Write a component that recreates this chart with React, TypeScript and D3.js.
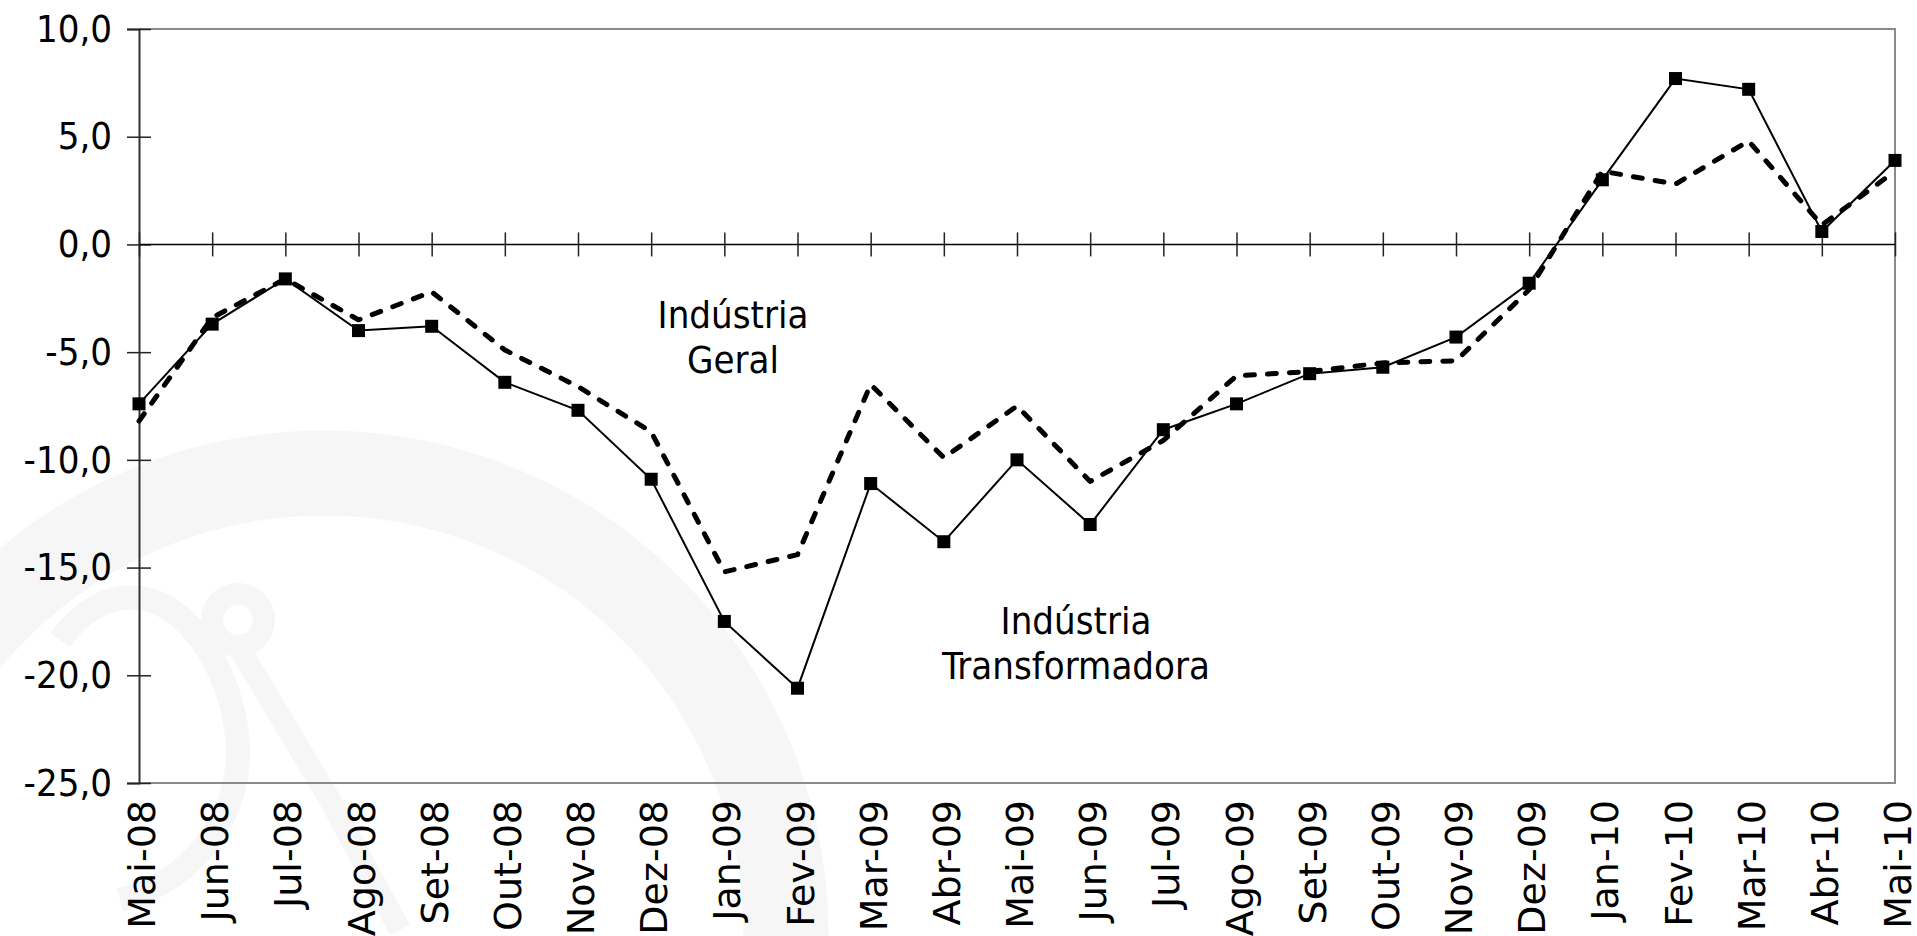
import React, { useEffect, useRef } from 'react';
import * as d3 from 'd3';

const months = [
  'Mai-08', 'Jun-08', 'Jul-08', 'Ago-08', 'Set-08', 'Out-08', 'Nov-08', 'Dez-08',
  'Jan-09', 'Fev-09', 'Mar-09', 'Abr-09', 'Mai-09', 'Jun-09', 'Jul-09', 'Ago-09',
  'Set-09', 'Out-09', 'Nov-09', 'Dez-09', 'Jan-10', 'Fev-10', 'Mar-10', 'Abr-10', 'Mai-10',
];

// Indústria Transformadora (solid line with square markers)
const transformadora = [
  -7.4, -3.7, -1.6, -4.0, -3.8, -6.4, -7.7, -10.9, -17.5, -20.6, -11.1, -13.8, -10.0,
  -13.0, -8.6, -7.4, -6.0, -5.7, -4.3, -1.8, 3.0, 7.7, 7.2, 0.6, 3.9,
];

// Indústria Geral (dashed line)
const geral = [
  -8.2, -3.4, -1.6, -3.5, -2.2, -4.9, -6.6, -8.7, -15.2, -14.4, -6.5, -9.9, -7.5,
  -11.0, -9.1, -6.1, -5.9, -5.5, -5.4, -2.1, 3.4, 2.8, 4.8, 0.9, 3.4,
];

const yTicks = [10, 5, 0, -5, -10, -15, -20, -25];

export default function App() {
  const ref = useRef<HTMLDivElement>(null);

  useEffect(() => {
    const width = 1917;
    const height = 936;
    const marginLeft = 139;
    const marginRight = 22;
    const marginTop = 29;
    const marginBottom = 153;
    const narrow = "'DejaVu Sans Condensed', 'DejaVu Sans', sans-serif";

    d3.select(ref.current).selectAll('*').remove();

    const svg = d3
      .select(ref.current)
      .append('svg')
      .attr('width', width)
      .attr('height', height)
      .attr('viewBox', [0, 0, width, height])
      .style('position', 'absolute')
      .style('left', 0)
      .style('top', 0)
      .style('background', '#fff');

    const x = d3
      .scalePoint<string>()
      .domain(months)
      .range([marginLeft, width - marginRight]);
    const y = d3
      .scaleLinear()
      .domain([-25, 10])
      .range([height - marginBottom, marginTop]);

    // faint watermark in the background
    const wm = svg.append('g').attr('fill', 'none').attr('stroke', '#f6f6f6');
    wm.append('circle').attr('cx', 324).attr('cy', 935).attr('r', 462).attr('stroke-width', 85);
    wm.append('circle').attr('cx', 238).attr('cy', 620).attr('r', 26).attr('stroke-width', 22);
    wm.append('path')
      .attr('d', 'M60,640 C120,560 200,600 230,700 S200,880 120,900')
      .attr('stroke-width', 24);
    wm.append('path')
      .attr('d', 'M238,646 L330,800 L400,930')
      .attr('stroke-width', 22);

    // plot frame
    svg
      .append('path')
      .attr('fill', 'none')
      .attr('stroke', '#8a8a8a')
      .attr('stroke-width', 2)
      .attr(
        'd',
        `M${marginLeft},${y(10)}H${width - marginRight}V${y(-25)}H${marginLeft}`
      );

    // y axis
    const yAxis = d3
      .axisLeft(y)
      .tickValues(yTicks)
      .tickSize(12)
      .tickFormat((d) => d3.format('.1f')(d as number).replace('.', ',').replace('\u2212', '-'));
    svg
      .append('g')
      .attr('transform', `translate(${marginLeft},0)`)
      .call(yAxis)
      .call((g) => g.select('.domain').attr('stroke', '#333').attr('stroke-width', 2))
      .call((g) =>
        g
          .selectAll('.tick line')
          .attr('x1', 12)
          .attr('stroke', '#222')
          .attr('stroke-width', 1.5)
      )
      .call((g) =>
        g
          .selectAll('.tick text')
          .attr('x', -27)
          .attr('fill', '#000')
          .attr('font-size', 38)
          .attr('font-family', narrow)
          .style('font-stretch', 'condensed')
      );

    // zero line with category ticks
    const xAxis = d3.axisBottom(x).tickSize(12).tickFormat(() => '');
    svg
      .append('g')
      .attr('transform', `translate(0,${y(0)})`)
      .call(xAxis)
      .call((g) =>
        g
          .select('.domain')
          .attr('d', `M${marginLeft},0H${width - marginRight}`)
          .attr('stroke', '#000')
          .attr('stroke-width', 1.5)
      )
      .call((g) =>
        g.selectAll('.tick line').attr('y1', -12).attr('stroke', '#222').attr('stroke-width', 1.5)
      );

    // category labels below the plot
    svg
      .append('g')
      .selectAll('text')
      .data(months)
      .join('text')
      .attr('transform', (d) => `translate(${x(d)! + 16},${y(-25) + 17}) rotate(-90)`)
      .attr('text-anchor', 'end')
      .attr('font-size', 38)
      .attr('font-family', "'DejaVu Sans', sans-serif")
      .attr('fill', '#000')
      .text((d) => d);

    const line = (vals: number[]) =>
      d3
        .line<number>()
        .x((_, i) => x(months[i])!)
        .y((d) => y(d))(vals);

    svg
      .append('path')
      .attr('fill', 'none')
      .attr('stroke', '#000')
      .attr('stroke-width', 5)
      .attr('stroke-dasharray', '9 13')
      .attr('stroke-linecap', 'round')
      .attr('stroke-linejoin', 'round')
      .attr('d', line(geral));

    svg
      .append('path')
      .attr('fill', 'none')
      .attr('stroke', '#000')
      .attr('stroke-width', 2)
      .attr('d', line(transformadora));

    svg
      .append('g')
      .selectAll('rect')
      .data(transformadora)
      .join('rect')
      .attr('x', (_, i) => x(months[i])! - 6.5)
      .attr('y', (d) => y(d) - 6.5)
      .attr('width', 13)
      .attr('height', 13)
      .attr('fill', '#000');

    // annotations
    const notes = [
      { lines: ['Indústria', 'Geral'], cx: 733, cy: 314 },
      { lines: ['Indústria', 'Transformadora'], cx: 1076, cy: 620 },
    ];
    notes.forEach((n) => {
      svg
        .append('text')
        .attr('text-anchor', 'middle')
        .attr('font-size', 38)
        .attr('font-family', narrow)
        .style('font-stretch', 'condensed')
        .attr('fill', '#000')
        .selectAll('tspan')
        .data(n.lines)
        .join('tspan')
        .attr('x', n.cx)
        .attr('y', (_, i) => n.cy + 14 + i * 45)
        .text((d) => d);
    });
  }, []);

  return <div ref={ref}></div>;
}
